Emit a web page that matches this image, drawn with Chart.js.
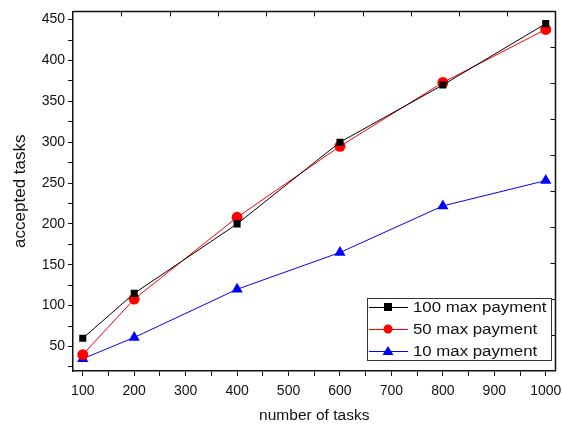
<!DOCTYPE html>
<html>
<head>
<meta charset="utf-8">
<script src="https://cdn.jsdelivr.net/npm/chart.js@4"></script>
<style>
  html, body { margin: 0; padding: 0; background: #fff; }
  #wrap { width: 562px; height: 425px; }
</style>
</head>
<body>
<div id="wrap"><canvas id="taskChart" width="562" height="425"></canvas></div>
<script>
// values
const taskCounts = [100, 200, 400, 600, 800, 1000];
const pay100 = [60, 115, 200, 300, 370, 445];
const pay50 = [40, 108, 208, 295, 373, 438];
const pay10 = [35, 61, 120, 165, 222, 253];

const FONT = 'Liberation Sans, Arial, sans-serif';

function toPoints(vals) {
    return taskCounts.map((x, i) => ({ x: x, y: vals[i] }));
}

// box frame with inward ticks on top and right, plus legend inside the plot
const framePlugin = {
    id: 'frame',
    afterDraw(chart) {
        const ctx = chart.ctx;
        const a = chart.chartArea;
        ctx.save();
        ctx.strokeStyle = '#111';
        ctx.lineWidth = 1.5;
        ctx.beginPath();
        ctx.moveTo(a.left, a.top);
        ctx.lineTo(a.right, a.top);
        ctx.lineTo(a.right, a.bottom);
        ctx.stroke();
        ctx.lineWidth = 1;
        for (let i = 1; i < 10; i++) {
            const x = a.left + (a.right - a.left) * i / 10;
            const y = a.top + (a.bottom - a.top) * i / 10;
            ctx.beginPath();
            ctx.moveTo(Math.round(x) + 0.5, a.top);
            ctx.lineTo(Math.round(x) + 0.5, a.top + 5);
            ctx.moveTo(a.right, Math.round(y) + 0.5);
            ctx.lineTo(a.right - 5, Math.round(y) + 0.5);
            ctx.stroke();
        }

        // legend box
        const bx = 367, by = 298, bw = 184, bh = 62;
        ctx.fillStyle = '#fff';
        ctx.fillRect(bx, by, bw, bh);
        ctx.strokeStyle = '#333';
        ctx.lineWidth = 1;
        ctx.strokeRect(bx + 0.5, by + 0.5, bw, bh);
        ctx.font = '14px ' + FONT;
        ctx.textBaseline = 'middle';
        chart.data.datasets.forEach((ds, i) => {
            const y = by + 9 + i * 22;
            ctx.strokeStyle = ds.borderColor;
            ctx.beginPath();
            ctx.moveTo(bx + 2, y + 0.5);
            ctx.lineTo(bx + 41, y + 0.5);
            ctx.stroke();
            ctx.fillStyle = ds.backgroundColor;
            const cx = bx + 21;
            if (ds.pointStyle === 'rect') {
                ctx.fillRect(cx - 4, y - 4, 8, 8);
            } else if (ds.pointStyle === 'circle') {
                ctx.beginPath();
                ctx.arc(cx, y, 4.5, 0, Math.PI * 2);
                ctx.fill();
            } else {
                ctx.beginPath();
                ctx.moveTo(cx, y - 5);
                ctx.lineTo(cx + 5.5, y + 4);
                ctx.lineTo(cx - 5.5, y + 4);
                ctx.closePath();
                ctx.fill();
            }
            // text in the reference is a bit wide, stretch it horizontally
            ctx.save();
            ctx.translate(bx + 46, y + 1);
            ctx.scale(1.2, 1);
            ctx.fillStyle = '#111';
            ctx.fillText(ds.label, 0, 0);
            ctx.restore();
        });
        ctx.restore();
    }
};

const ctx = document.getElementById('taskChart').getContext('2d');
const chart = new Chart(ctx, {
    type: 'line',
    data: {
        datasets: [
            {
                label: '100 max payment',
                data: toPoints(pay100),
                borderColor: '#000',
                backgroundColor: '#000',
                borderWidth: 1,
                pointStyle: 'rect',
                pointRadius: 5,
                pointBorderWidth: 0
            },
            {
                label: '50 max payment',
                data: toPoints(pay50),
                borderColor: '#ff0000',
                backgroundColor: '#ff0000',
                borderWidth: 1,
                pointStyle: 'circle',
                pointRadius: 5.5,
                pointBorderWidth: 0
            },
            {
                label: '10 max payment',
                data: toPoints(pay10),
                borderColor: '#0000ff',
                backgroundColor: '#0000ff',
                borderWidth: 1,
                pointStyle: 'triangle',
                pointRadius: 6.5,
                pointBorderWidth: 0
            }
        ]
    },
    options: {
        responsive: false,
        animation: false,
        layout: { padding: { top: 9, right: 4, left: 0, bottom: 0 } },
        plugins: {
            legend: { display: false },
            tooltip: { enabled: false }
        },
        scales: {
            x: {
                type: 'linear',
                min: 81,
                max: 1019,
                afterFit: function(scale) {
                    scale.height = 54;
                    // let the "1000" label run into the margin like the original
                    scale.paddingRight = 0;
                    scale.paddingLeft = 0;
                },
                border: { display: true, color: '#111', width: 1.5 },
                grid: {
                    drawOnChartArea: false,
                    tickLength: 5,
                    tickColor: '#111'
                },
                ticks: {
                    stepSize: 50,
                    includeBounds: false,
                    autoSkip: false,
                    maxRotation: 0,
                    color: '#111',
                    font: { family: FONT, size: 14 },
                    padding: 7,
                    callback: function(v) { return v % 100 === 0 ? v : ''; }
                },
                title: {
                    display: true,
                    text: 'number of tasks',
                    color: '#111',
                    font: { family: FONT, size: 15.5 },
                    padding: { top: 4, bottom: 0 }
                }
            },
            y: {
                type: 'linear',
                min: 20,
                max: 460,
                afterFit: function(scale) { scale.width = 73; },
                border: { display: true, color: '#111', width: 1.5 },
                grid: {
                    drawOnChartArea: false,
                    tickLength: 5,
                    tickColor: '#111'
                },
                ticks: {
                    stepSize: 25,
                    includeBounds: false,
                    autoSkip: false,
                    color: '#111',
                    font: { family: FONT, size: 14 },
                    padding: 3,
                    callback: function(v) { return v % 50 === 0 ? v : ''; }
                },
                title: {
                    display: true,
                    text: 'accepted tasks',
                    color: '#111',
                    font: { family: FONT, size: 17 },
                    padding: { top: 10, bottom: 0 }
                }
            }
        }
    },
    plugins: [framePlugin]
});
</script>
</body>
</html>
